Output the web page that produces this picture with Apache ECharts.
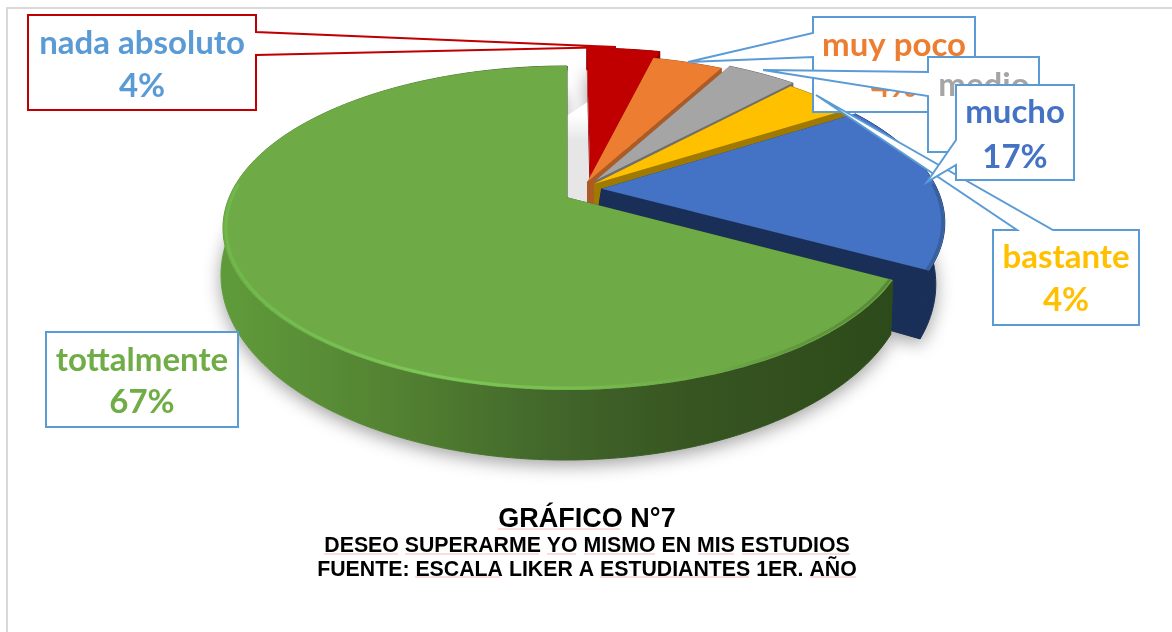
<!DOCTYPE html>
<html><head><meta charset="utf-8">
<style>html,body{margin:0;padding:0;background:#fff}#c{width:1172px;height:632px}</style>
<script src="https://cdn.jsdelivr.net/npm/echarts@6/dist/echarts.min.js"></script>
</head><body><div id="c"></div>
<script>
const categories = ['nada absoluto','muy poco','medio','bastante','mucho','tottalmente'];
const values = [4,4,4,4,17,67];
const percentLabels = ['4%','4%','4%','4%','17%','67%'];
const topColors = ['#c00000','#ed7d31','#a5a5a5','#ffc000','#4472c4','#6eab46'];
const wallColors = ['#8e0000','#ad5b24','#6f6f6f','#a07a00','#1a2f57','#2d4a1a'];
const labelColors = ['#5b9bd5','#ed7d31','#a5a5a5','#ffc000','#4472c4','#70ad47'];
const titleLines = ['GRÁFICO N°7','DESEO SUPERARME YO MISMO EN MIS ESTUDIOS','FUENTE: ESCALA LIKER A ESTUDIANTES 1ER. AÑO'];

/* 3D look: a disc seen in perspective */
const DISC = {cx:565, cy:228, rx:344, ry:162, k:0.19, depth:47, bottomY:1.142, explode:0.065};
const radiusScale = [1.05,1,1,1,1,1];
const nudge = [[4,-2],[-4,-1],[0,-4],[-6,-2],[-4,-3],[2,0]];
const bottomNudge = [[0,0],[0,0],[0,0],[0,0],[-9,15],[-2,0]];
const total = values.reduce((a,b)=>a+b,0);
const starts = []; values.reduce((a,v,i)=>{starts[i]=a; return a+v/total*Math.PI*2;},0);
const spans = values.map(v=>v/total*Math.PI*2);
const refI = values.length-1;
const bis = i=>starts[i]+spans[i]/2;
function project(u,v,bottom){
  const K=DISC.k, d=1+K*v, xp=u*Math.sqrt(1-K*K)/d, yp=(v+K)/d;
  return [DISC.cx+DISC.rx*xp, DISC.cy+(bottom?DISC.depth:0)-DISC.ry*yp*(bottom?DISC.bottomY:1)];
}
function slicePoint(i,theta,r,bottom){
  const ox=DISC.explode*(Math.sin(bis(i))-Math.sin(bis(refI)));
  const oy=DISC.explode*(Math.cos(bis(i))-Math.cos(bis(refI)));
  const p=project(ox+r*Math.sin(theta),oy+r*Math.cos(theta),bottom);
  const n=bottom?bottomNudge[i]:[0,0];
  return [p[0]+nudge[i][0]+n[0],p[1]+nudge[i][1]+n[1]];
}
function arc(i,r,bottom,from,to){
  const a=from===undefined?starts[i]:from, b=to===undefined?starts[i]+spans[i]:to;
  const n=Math.max(6,Math.ceil((b-a)/0.02)), out=[];
  for(let j=0;j<=n;j++) out.push(slicePoint(i,a+(b-a)*j/n,r,bottom));
  return out;
}
const G=echarts.graphic.LinearGradient;
const DEG=Math.PI/180;
function wallFill(i){
  if(i===refI) return new G(230,0,890,0,[
    {offset:0,color:'#5f9a3a'},{offset:.25,color:'#538232'},{offset:.5,color:'#41652a'},{offset:.7,color:'#375521'},{offset:1,color:'#2d4a1a'}],true);
  return wallColors[i];
}
function renderShadow(params,api){
  const i=params.dataIndex, r=radiusScale[i];
  const a=[slicePoint(i,0,0,true)].concat(arc(i,r,true));
  const kids=[{type:'polygon',shape:{points:a},style:{fill:'#ffffff',shadowBlur:18,shadowColor:'rgba(0,0,0,0.38)',shadowOffsetX:0,shadowOffsetY:5}}];
  if(i===refI){
    const gTop=slicePoint(refI,0,0.58,false), rTop=slicePoint(0,0,0.58,false), rApex=slicePoint(0,0,0,false), gApex=slicePoint(refI,0,0,false);
    kids.push({type:'polygon',shape:{points:[gTop,rTop,rApex,[rApex[0],gApex[1]+4],gApex]},style:{fill:new G(0,gTop[1],0,gTop[1]+25,[{offset:0,color:'#ffffff'},{offset:1,color:'#e6e6e6'}],true)}});
  }
  return {type:'group',silent:true,children:kids};
}
function renderSlice(params,api){
  const i=params.dataIndex, r=radiusScale[i];
  const topArc=arc(i,r,false), botArc=arc(i,r,true);
  const apexT=slicePoint(i,0,0,false), apexB=slicePoint(i,0,0,true);
  const kids=[];
  kids.push({type:'polygon',shape:{points:[apexT,topArc[0],botArc[0],apexB]},style:{fill:wallColors[i]}});
  kids.push({type:'polygon',shape:{points:[apexT,topArc[topArc.length-1],botArc[botArc.length-1],apexB]},style:{fill:wallColors[i],stroke:wallColors[i],lineWidth:1}});
  kids.push({type:'polygon',shape:{points:topArc.concat(botArc.slice().reverse())},style:{fill:wallFill(i),stroke:wallFill(i),lineWidth:1}});
  kids.push({type:'polygon',shape:{points:[apexT].concat(topArc)},style:{fill:topColors[i]}});
  if(i===refI){
    kids.push({type:'polyline',shape:{points:arc(i,r*0.992,false,starts[i],275*DEG)},style:{fill:null,lineWidth:3,lineJoin:'round',
      stroke:new G(230,0,890,0,[{offset:0,color:'#70b84b'},{offset:.3,color:'#7cc757'},{offset:.5,color:'#78bf50'},{offset:.72,color:'#6eab46'},{offset:.88,color:'#60963c'},{offset:1,color:'#578a36'}],true)}});
  }
  if(i===refI-1){
    kids.push({type:'polyline',shape:{points:arc(i,r*0.994,false,starts[i]+spans[i]*0.5,starts[i]+spans[i])},style:{fill:null,lineWidth:3,lineJoin:'round',stroke:'#38609f'}});
  }
  return {type:'group',silent:true,children:kids};
}
/* callout boxes: [x0,y0,x1,y1], pointer [tip, base A, base B], text centre, text line y */
const callouts = {
  0:{box:[28,15,256,110],tip:[[616,47],[256,32],[256,55]],tx:142,ty:[43,86],stroke:'#c00000'},
  1:{box:[813,17,975,112],tip:[[688,62],[813,33],[813,57]],tx:894,ty:[45,86],stroke:'#5b9bd5'},
  2:{box:[928,57,1039,152],tip:[[763,70],[928,72],[928,96]],tx:984,ty:[85,127],stroke:'#5b9bd5'},
  3:{box:[993,230,1139,325],tip:[[816,95],[1053,230],[1017,230]],tx:1066,ty:[257,300],stroke:'#5b9bd5'},
  4:{box:[956,85,1074,180],tip:[[927,182],[956,140],[956,165]],tx:1015,ty:[112,157],stroke:'#5b9bd5'},
  5:{box:[46,332,238,427],tip:null,tx:142,ty:[360,402],stroke:'#5b9bd5'}
};
const calloutOrder=[5,0,1,2,3,4];
function renderCallout(params,api){
  const i=calloutOrder[params.dataIndex], c=callouts[i], b=c.box, t=c.tip;
  let pts=[[b[0],b[1]],[b[2],b[1]],[b[2],b[3]],[b[0],b[3]]];
  if(t){
    if(t[1][0]===b[2]) pts=[[b[0],b[1]],[b[2],b[1]],t[1],t[0],t[2],[b[2],b[3]],[b[0],b[3]]];
    else if(t[1][0]===b[0]) pts=[[b[0],b[1]],[b[2],b[1]],[b[2],b[3]],[b[0],b[3]],t[2],t[0],t[1]];
    else pts=[[b[0],b[1]],t[2],t[0],t[1],[b[2],b[1]],[b[2],b[3]],[b[0],b[3]]];
  }
  const font='bold 33px Lato';
  return {type:'group',silent:true,children:[
    {type:'polygon',shape:{points:pts},style:{fill:'#fff',stroke:c.stroke,lineWidth:2,lineJoin:'miter'}},
    {type:'text',style:{text:categories[i],x:c.tx,y:c.ty[0],fill:labelColors[i],font:font,align:'center',verticalAlign:'middle'}},
    {type:'text',style:{text:percentLabels[i],x:c.tx,y:c.ty[1],fill:labelColors[i],font:font,align:'center',verticalAlign:'middle'}}
  ]};
}
/* pale proofing marks under the caption words: [x0,x1,y] */
const proofMarks=[[498,620,529],[324,398,554],[405,539,554],[547,576,554],[584,655,554],[698,734,554],[742,850,554],[415,500,577],[600,749,577],[810,856,577]];
const chart=echarts.init(document.getElementById('c'),null,{renderer:'canvas'});
const sliceData=values.map((v,i)=>({name:categories[i],value:[i,v]}));
chart.setOption({
  animation:false,
  backgroundColor:'#fff',
  title:[
    {text:titleLines[0],left:582,top:501,textAlign:'center',textStyle:{fontFamily:'Liberation Sans',fontWeight:'bold',fontSize:27,color:'#000'}},
    {text:titleLines[1],left:582,top:531,textAlign:'center',textStyle:{fontFamily:'Liberation Sans',fontWeight:'bold',fontSize:21.3,color:'#000'}},
    {text:titleLines[2],left:582,top:555,textAlign:'center',textStyle:{fontFamily:'Liberation Sans',fontWeight:'bold',fontSize:21.3,color:'#000'}}
  ],
  graphic:[
    {type:'polyline',silent:true,shape:{points:[[7,632],[7,8],[1172,8]]},style:{fill:null,stroke:'#d9d9d9',lineWidth:2}}
  ].concat(proofMarks.map(m=>({type:'line',silent:true,shape:{x1:m[0],y1:m[2],x2:m[1],y2:m[2]},style:{stroke:'#f3bcbc',lineWidth:1}}))),
  series:[
    {type:'custom',coordinateSystem:'none',z:1,renderItem:renderShadow,data:sliceData,silent:true},
    {type:'custom',coordinateSystem:'none',z:2,renderItem:renderSlice,data:sliceData,silent:true},
    {type:'custom',coordinateSystem:'none',z:3,renderItem:renderCallout,data:calloutOrder.map(i=>({name:categories[i],value:[i,values[i]]})),silent:true}
  ]
});
</script></body></html>
